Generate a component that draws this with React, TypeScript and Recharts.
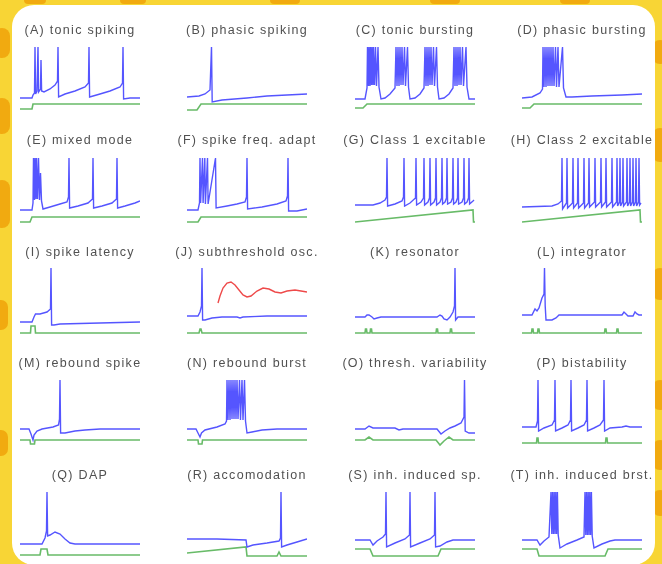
import React from "react";
import { LineChart, Line, XAxis, YAxis } from "recharts";

type Pt = [number, number];

// panel titles, in reading order
const titles = [
  "(A) tonic spiking", "(B) phasic spiking", "(C) tonic bursting", "(D) phasic bursting",
  "(E) mixed mode", "(F) spike freq. adapt", "(G) Class 1 excitable", "(H) Class 2 excitable",
  "(I) spike latency", "(J) subthreshold osc.", "(K) resonator", "(L) integrator",
  "(M) rebound spike", "(N) rebound burst", "(O) thresh. variability", "(P) bistability",
  "(Q) DAP", "(R) accomodation", "(S) inh. induced sp.", "(T) inh. induced brst.",
];

// traces: [time, value], time 0..120, value 0..72
const aBlue: Pt[] = [[0,16],[12,16],[13,19],[14.5,21],[15,67],[15.6,20],[17,23],[18,67],[18.6,22],[20.5,25],[21,54],[21.6,23],[24,22],[30,25],[35,29],[37.5,33],[38,67],[38.6,17],[45,20],[55,23],[65,27],[68.5,31],[69,67],[69.6,17],[80,20],[90,23],[100,27],[102.5,31],[103,67],[103.6,15],[110,16],[120,16]];
const aGreen: Pt[] = [[0,5],[12,5],[13,10],[120,10]];

const bBlue: Pt[] = [[0,17],[12,18],[18,20],[23,24],[24.5,67],[25.2,12],[35,14],[60,16],[80,18],[100,19],[120,20]];
const bGreen: Pt[] = [[0,4],[10,4],[14,10],[120,10]];

const cBlue: Pt[] = [[0,15],[10,15],[12,26],
  [12.5,67],[13.5,28],[14,67],[15,28],[15.5,67],[16.5,29],[17,67],[18,29],[18.5,67],[19.5,29],[20.5,67],[21.5,28],[23,67],[24,27],[26,15],[30,16],[35,20],[40,26],
  [41,67],[42,28],[43,67],[44,28],[45,67],[46,29],[47,67],[48,29],[49.5,67],[50.5,28],[52.5,67],[53.5,27],[55,15],[60,16],[65,20],[69,26],
  [70,67],[71,28],[72,67],[73,28],[74,67],[75,29],[76,67],[77,29],[78.5,67],[79.5,28],[81.5,67],[82.5,27],[84,15],[89,16],[94,20],[98,26],
  [99,67],[100,28],[101,67],[102,28],[103,67],[104,29],[105,67],[106,29],[107.5,67],[108.5,28],[111,67],[112,27],[114,15],[120,15]];
const cGreen: Pt[] = [[0,6],[8,6],[12,10],[120,10]];

const dBlue: Pt[] = [[0,16],[10,17],[18,21],[20.5,25],
  [21,67],[22,27],[23,67],[24,27],[25,67],[26,28],[27,67],[28,28],[29,67],[30,28],[31,67],[32,28],[33.5,67],[34.5,27],[36,67],[37,27],[40.5,67],[41.5,26],
  [44,17],[50,17],[70,18],[100,19],[120,20]];
const dGreen: Pt[] = [[0,6],[8,6],[12,10],[120,10]];

const eBlue: Pt[] = [[0,15],[12,15],[13,22],
  [13.5,67],[14.5,25],[15,67],[16,26],[16.5,67],[17.5,26],[18.5,67],[19.5,25],[20.5,52],[21.5,24],
  [23,16],[30,18],[40,21],[47,23],[48.5,28],[49,67],[49.6,17],[58,19],[68,22],[72.5,26],[73,67],[73.6,17],[82,19],[92,22],[96.5,26],[97,67],[97.6,17],[105,19],[115,22],[120,24]];
const eGreen: Pt[] = [[0,3],[10,3],[12,8],[120,8]];

const fBlue: Pt[] = [[0,15],[11,15],[12.5,22],[13,67],[13.6,22],[15.5,67],[16.1,22],[17.8,67],[18.4,21],[20.5,67],[21.1,21],[28.5,67],[29.1,17],[40,19],[50,21],[58,23],[59.5,28],[60,67],[60.6,16],[75,18],[90,21],[99,24],[100.5,29],[101,67],[101.6,14],[110,14],[120,16]];
const fGreen: Pt[] = [[0,3],[11,3],[14,8],[120,8]];

const gBlue: Pt[] = [[0,20],[18,20],[25,22],[30,25],[31.5,28],[32,67],[32.6,19],[40,21],[47,24],[48.5,28],[49,67],[49.6,19],[55,22],[60.5,27],[61,67],[61.6,20],[66,23],[68.5,27],[69,67],[69.6,20],[73,23],[74.5,27],[75,67],[75.6,20],[79,23],[80.5,27],[81,67],[81.6,20],[85,23],[86.5,27],[87,67],[87.6,21],[90,23],[91.5,27],[92,67],[92.6,21],[96,23],[97.5,27],[98,67],[98.6,21],[101,23],[102.5,27],[103,67],[103.6,21],[107,23],[108.5,27],[109,67],[109.6,21],[112,23],[113.5,27],[114,67],[114.6,21],[118,24],[119,25]];
const gGreen: Pt[] = [[0,3],[118,15],[118.5,3],[120,3]];

const hBlue: Pt[] = [[0,18],[30,19],[36,21],[39.5,24],[40,67],[40.6,16],[44.5,22],[45,67],[45.6,17],[50.5,22],[51,67],[51.6,17],[55.5,22],[56,67],[56.6,17],[61.5,22],[62,67],[62.6,17],[66.5,22],[67,67],[67.6,18],[72.5,23],[73,67],[73.6,18],[78.5,23],[79,67],[79.6,18],[83.5,23],[84,67],[84.6,18],[89.5,23],[90,67],[90.6,18],[94.5,23],[95,67],[95.6,19],[97.5,23],[98,67],[98.6,19],[100.5,23],[101,67],[101.6,19],[104.5,23],[105,67],[105.6,19],[107.5,23],[108,67],[108.6,19],[110.5,23],[111,67],[111.6,19],[113.5,23],[114,67],[114.6,19],[116.5,23],[117,67],[117.6,20],[119,22]];
const hGreen: Pt[] = [[0,3],[118,15],[118.5,3],[120,3]];

const iBlue: Pt[] = [[0,14],[12,14],[14,19],[15.5,22],[20,22],[27,24],[30.5,27],[31,68],[31.6,11],[34,11],[40,12],[80,13],[120,14]];
const iGreen: Pt[] = [[0,3],[10.5,3],[11,10],[15,10],[15.5,3],[120,3]];

const jBlue: Pt[] = [[0,20],[11,20],[13,24],[14.5,30],[15,68],[15.6,16],[18,16],[25,18],[35,19],[50,19],[53,18],[56,19],[80,20],[120,20]];
const jGreen: Pt[] = [[0,3],[12,3],[13,7],[14,7],[15,3],[120,3]];
const jRed: Pt[] = [[31,33],[33,40],[36,48],[40,53],[44,54],[48,51],[52,46],[56,41],[60,39],[64,40],[70,45],[76,48],[82,47],[88,44],[94,43],[100,45],[108,46],[114,45],[120,44]];

const kBlue: Pt[] = [[0,19],[10,19],[12,21],[14,21],[17,19],[19,17],[22,18],[26,19],[82,19],[85,21],[87,20],[89,17],[92,16],[95,19],[98,24],[99.5,30],[100,68],[100.6,16],[103,19],[120,19]];
const kGreen: Pt[] = [[0,3],[10,3],[10.5,7],[11.5,7],[12,3],[15,3],[15.5,7],[16.5,7],[17,3],[81,3],[81.5,7],[82.5,7],[83,3],[95,3],[95.5,7],[96.5,7],[97,3],[120,3]];

const lBlue: Pt[] = [[0,21],[10,21],[13,27],[15,25],[17,28],[20,38],[22,42],[22.5,68],[23.2,30],[24,16],[30,16],[34,18],[37,21],[100,21],[102,24],[104,22],[106,20],[111,20],[113,24],[115,22],[117,21],[120,21]];
const lGreen: Pt[] = [[0,3],[9.5,3],[10,7],[11,7],[11.5,3],[15.5,3],[16,7],[17,7],[17.5,3],[82.5,3],[83,7],[84,7],[84.5,3],[94.5,3],[95,7],[96,7],[96.5,3],[120,3]];

const mBlue: Pt[] = [[0,18],[9,18],[11,13],[13,7],[14,12],[17,16],[22,18],[33,20],[38.5,22],[39.5,28],[40,67],[40.6,14],[45,14],[55,16],[65,17],[80,18],[120,18]];
const mGreen: Pt[] = [[0,7],[10,7],[10.5,3],[14.5,3],[15,7],[120,7]];

const nBlue: Pt[] = [[0,18],[9,18],[11,14],[13,10],[14.5,14],[18,17],[30,20],[38,23],[39.5,26],
  [40,67],[41,27],[42,67],[43,27],[44,67],[45,28],[46,67],[47,28],[48,67],[49,28],[50,67],[51,28],[52.5,67],[53.5,27],[55,67],[56,27],[57.5,67],[58.5,26],
  [60,14],[65,15],[75,17],[90,18],[120,18]];
const nGreen: Pt[] = [[0,7],[11,7],[11.5,3],[15,3],[15.5,7],[120,7]];

const oBlue: Pt[] = [[0,18],[10,18],[14,21],[18,19],[40,19],[44,17],[48,18],[82,18],[86,13],[90,16],[95,19],[100,21],[106,24],[109,30],[109.5,67],[110.2,16],[114,14],[120,14]];
const oGreen: Pt[] = [[0,7],[10,7],[14,10],[18,7],[81,7],[85,2],[89,6],[94,10],[98,7],[120,7]];

const pBlue: Pt[] = [[0,20],[14,20],[15.5,26],[16,67],[16.6,16],[22,19],[30,22],[32.5,27],[33,67],[33.6,16],[40,19],[46,22],[48.5,27],[49,67],[49.6,16],[56,19],[62,22],[64.5,27],[65,67],[65.6,16],[72,19],[78,22],[81.5,27],[82,67],[82.6,16],[88,19],[100,20],[104,21],[108,20],[120,20]];
const pGreen: Pt[] = [[0,4],[14.5,4],[15,9],[16,9],[16.5,4],[83.5,4],[84,9],[85,9],[85.5,4],[120,4]];

const qBlue: Pt[] = [[0,14],[22,14],[25,20],[26.5,27],[27,66],[27.6,22],[30,23],[35,26],[40,24],[45,19],[50,15],[55,14],[120,14]];
const qGreen: Pt[] = [[0,3],[20,3],[21,9],[27,9],[28,3],[120,3]];

const rBlue: Pt[] = [[0,19],[30,19],[59,18],[60,11],[66,13],[80,15],[92,17],[93.5,20],[94,66],[94.6,11],[100,13],[110,16],[120,19]];
const rGreen: Pt[] = [[0,5],[59,11],[60,2],[90,2],[92,6],[94,2],[120,2]];

const sBlue: Pt[] = [[0,18],[15,18],[18,13],[22,17],[28,21],[30.5,24],[31,66],[31.6,11],[40,15],[50,19],[54.5,23],[55,66],[55.6,11],[65,15],[75,19],[79.5,23],[80,66],[80.6,11],[85,12],[92,16],[98,18],[120,18]];
const sGreen: Pt[] = [[0,9],[15,9],[18,2],[83,2],[86,9],[120,9]];

const tBlue: Pt[] = [[0,18],[15,18],[18,13],[22,17],[27,21],
  [29,66],[29.8,24],[30.6,66],[31.4,24],[32.2,66],[33,24],[33.8,66],[34.6,24],[35.4,66],[36.2,23],
  [38,10],[45,14],[55,18],[62,21],
  [63,66],[63.8,23],[64.6,66],[65.4,23],[66.2,66],[67,23],[67.8,66],[68.6,23],[69.4,66],[70.2,22],
  [72,10],[80,14],[88,17],[93,18],[120,18]];
const tGreen: Pt[] = [[0,9],[15,9],[17,2],[83,2],[86,9],[120,9]];

const blues = [aBlue, bBlue, cBlue, dBlue, eBlue, fBlue, gBlue, hBlue, iBlue, jBlue, kBlue, lBlue, mBlue, nBlue, oBlue, pBlue, qBlue, rBlue, sBlue, tBlue];
const greens = [aGreen, bGreen, cGreen, dGreen, eGreen, fGreen, gGreen, hGreen, iGreen, jGreen, kGreen, lGreen, mGreen, nGreen, oGreen, pGreen, qGreen, rGreen, sGreen, tGreen];

const colLeft = [20, 187, 355, 522];
const rowTop = [42, 153, 264, 375, 486];
const titleY = [30, 140, 252, 363, 475];
const W = 120;
const H = 72;

const toRows = (pts: Pt[]) => pts.map(([t, v]) => ({ t, v }));

// orange patches on the yellow frame
const blobs = [
  { left: -6, top: 28, w: 16, h: 30 }, { left: -6, top: 98, w: 16, h: 36 }, { left: -6, top: 180, w: 16, h: 48 },
  { left: -6, top: 300, w: 14, h: 30 }, { left: -6, top: 430, w: 14, h: 26 },
  { left: 652, top: 40, w: 16, h: 24 }, { left: 652, top: 128, w: 16, h: 34 }, { left: 652, top: 268, w: 16, h: 32 },
  { left: 652, top: 380, w: 16, h: 30 }, { left: 652, top: 440, w: 16, h: 30 }, { left: 652, top: 490, w: 16, h: 26 },
  { left: 24, top: -4, w: 22, h: 8 }, { left: 120, top: -4, w: 26, h: 8 }, { left: 270, top: -4, w: 30, h: 8 },
  { left: 430, top: -4, w: 30, h: 8 }, { left: 560, top: -4, w: 30, h: 8 },
];

function Panel({ i }: { i: number }) {
  const c = i % 4;
  const r = Math.floor(i / 4);
  return (
    <>
      <div
        style={{
          position: "absolute",
          left: colLeft[c] - 30,
          width: W + 60,
          top: titleY[r] - 8,
          height: 16,
          lineHeight: "16px",
          textAlign: "center",
          fontFamily: "'Liberation Sans', Arial, sans-serif",
          fontSize: 12.5,
          letterSpacing: 1.3,
          color: "#505050",
          whiteSpace: "nowrap",
        }}
      >
        {titles[i]}
      </div>
      <div style={{ position: "absolute", left: colLeft[c], top: rowTop[r] }}>
        <LineChart width={W} height={H} margin={{ top: 0, right: 0, bottom: 0, left: 0 }}>
          <XAxis type="number" dataKey="t" domain={[0, 120]} allowDataOverflow hide />
          <YAxis type="number" domain={[0, 72]} allowDataOverflow hide />
          <Line data={toRows(greens[i])} dataKey="v" type="linear" stroke="#68bb68" strokeWidth={1.6} dot={false} activeDot={false} isAnimationActive={false} />
          <Line data={toRows(blues[i])} dataKey="v" type="linear" stroke="#5555ff" strokeWidth={1.4} dot={false} activeDot={false} isAnimationActive={false} />
          {i === 9 && (
            <Line data={toRows(jRed)} dataKey="v" type="linear" stroke="#ee4a4a" strokeWidth={1.4} dot={false} activeDot={false} isAnimationActive={false} />
          )}
        </LineChart>
      </div>
    </>
  );
}

export default function App() {
  return (
    <div
      style={{
        position: "absolute",
        left: 0,
        top: 0,
        width: 662,
        height: 564,
        overflow: "hidden",
        background: "#f8d535",
        filter: "blur(0.35px)",
      }}
    >
      {blobs.map((b, k) => (
        <div key={k} style={{ position: "absolute", left: b.left, top: b.top, width: b.w, height: b.h, background: "#f1aa10", borderRadius: 8 }} />
      ))}
      <div
        style={{
          position: "absolute",
          left: 12,
          top: 5,
          width: 643,
          height: 560,
          background: "#ffffff",
          borderRadius: 22,
        }}
      />
      {titles.map((_, i) => (
        <Panel key={i} i={i} />
      ))}
    </div>
  );
}
